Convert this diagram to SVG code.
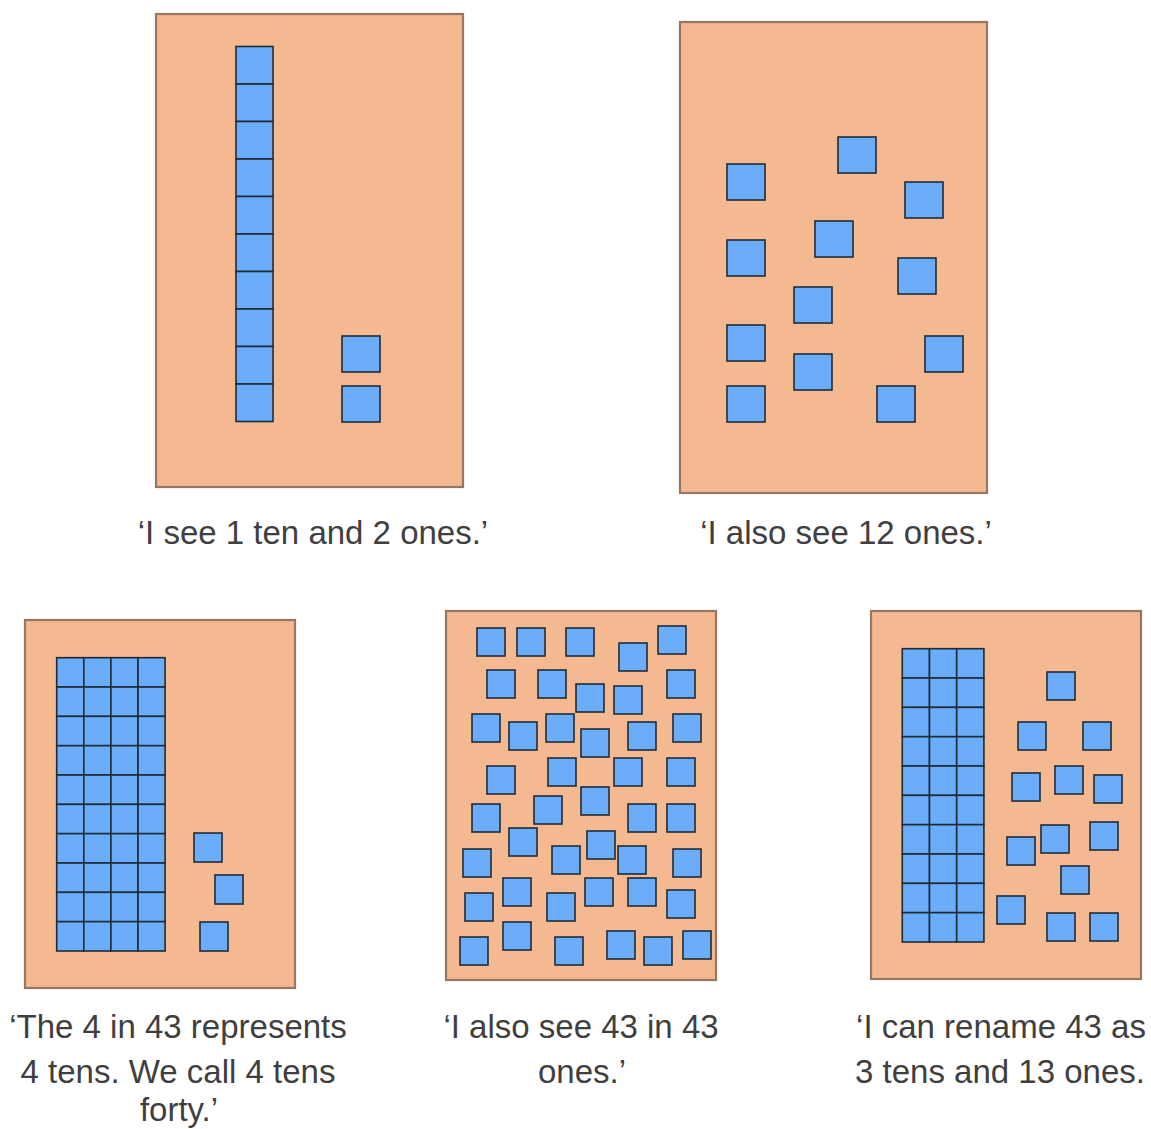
<svg xmlns="http://www.w3.org/2000/svg" width="1151" height="1129" viewBox="0 0 1151 1129">
<style>
.panel{fill:#f4b990;stroke:#977663;stroke-width:2.2}
.sq{fill:#6cadf9;stroke:#1f2c38;stroke-width:1.6}
.lbl{font-family:"Liberation Sans",Arial,sans-serif;font-size:33px;fill:#3f3f3f;text-anchor:middle}
</style>
<rect width="1151" height="1129" fill="#ffffff"/>

<g id="panel1">
<rect class="panel" x="156" y="14" width="307" height="473"/>
<rect class="sq" x="236" y="46.5" width="37" height="37.5"/>
<rect class="sq" x="236" y="84" width="37" height="37.5"/>
<rect class="sq" x="236" y="121.5" width="37" height="37.5"/>
<rect class="sq" x="236" y="159" width="37" height="37.5"/>
<rect class="sq" x="236" y="196.5" width="37" height="37.5"/>
<rect class="sq" x="236" y="234" width="37" height="37.5"/>
<rect class="sq" x="236" y="271.5" width="37" height="37.5"/>
<rect class="sq" x="236" y="309" width="37" height="37.5"/>
<rect class="sq" x="236" y="346.5" width="37" height="37.5"/>
<rect class="sq" x="236" y="384" width="37" height="37.5"/>
<rect class="sq" x="342" y="336" width="38" height="36"/>
<rect class="sq" x="342" y="386" width="38" height="36"/>
<text class="lbl" x="313" y="544">‘I see 1 ten and 2 ones.’</text>
</g>

<g id="panel2">
<rect class="panel" x="680" y="22" width="307" height="471"/>
<rect class="sq" x="727" y="164" width="38" height="36"/>
<rect class="sq" x="838" y="137" width="38" height="36"/>
<rect class="sq" x="905" y="182" width="38" height="36"/>
<rect class="sq" x="727" y="240" width="38" height="36"/>
<rect class="sq" x="815" y="221" width="38" height="36"/>
<rect class="sq" x="898" y="258" width="38" height="36"/>
<rect class="sq" x="794" y="287" width="38" height="36"/>
<rect class="sq" x="727" y="325" width="38" height="36"/>
<rect class="sq" x="925" y="336" width="38" height="36"/>
<rect class="sq" x="794" y="354" width="38" height="36"/>
<rect class="sq" x="727" y="386" width="38" height="36"/>
<rect class="sq" x="877" y="386" width="38" height="36"/>
<text class="lbl" x="846" y="544">‘I also see 12 ones.’</text>
</g>

<g id="panel3">
<rect class="panel" x="25" y="620" width="270" height="368"/>
<g id="grid3">
<rect class="sq" x="56.7" y="657.7" width="27.1" height="29.33"/><rect class="sq" x="83.8" y="657.7" width="27.1" height="29.33"/><rect class="sq" x="110.9" y="657.7" width="27.1" height="29.33"/><rect class="sq" x="138" y="657.7" width="27.1" height="29.33"/>
<rect class="sq" x="56.7" y="687.03" width="27.1" height="29.33"/><rect class="sq" x="83.8" y="687.03" width="27.1" height="29.33"/><rect class="sq" x="110.9" y="687.03" width="27.1" height="29.33"/><rect class="sq" x="138" y="687.03" width="27.1" height="29.33"/>
<rect class="sq" x="56.7" y="716.36" width="27.1" height="29.33"/><rect class="sq" x="83.8" y="716.36" width="27.1" height="29.33"/><rect class="sq" x="110.9" y="716.36" width="27.1" height="29.33"/><rect class="sq" x="138" y="716.36" width="27.1" height="29.33"/>
<rect class="sq" x="56.7" y="745.69" width="27.1" height="29.33"/><rect class="sq" x="83.8" y="745.69" width="27.1" height="29.33"/><rect class="sq" x="110.9" y="745.69" width="27.1" height="29.33"/><rect class="sq" x="138" y="745.69" width="27.1" height="29.33"/>
<rect class="sq" x="56.7" y="775.02" width="27.1" height="29.33"/><rect class="sq" x="83.8" y="775.02" width="27.1" height="29.33"/><rect class="sq" x="110.9" y="775.02" width="27.1" height="29.33"/><rect class="sq" x="138" y="775.02" width="27.1" height="29.33"/>
<rect class="sq" x="56.7" y="804.35" width="27.1" height="29.33"/><rect class="sq" x="83.8" y="804.35" width="27.1" height="29.33"/><rect class="sq" x="110.9" y="804.35" width="27.1" height="29.33"/><rect class="sq" x="138" y="804.35" width="27.1" height="29.33"/>
<rect class="sq" x="56.7" y="833.68" width="27.1" height="29.33"/><rect class="sq" x="83.8" y="833.68" width="27.1" height="29.33"/><rect class="sq" x="110.9" y="833.68" width="27.1" height="29.33"/><rect class="sq" x="138" y="833.68" width="27.1" height="29.33"/>
<rect class="sq" x="56.7" y="863.01" width="27.1" height="29.33"/><rect class="sq" x="83.8" y="863.01" width="27.1" height="29.33"/><rect class="sq" x="110.9" y="863.01" width="27.1" height="29.33"/><rect class="sq" x="138" y="863.01" width="27.1" height="29.33"/>
<rect class="sq" x="56.7" y="892.34" width="27.1" height="29.33"/><rect class="sq" x="83.8" y="892.34" width="27.1" height="29.33"/><rect class="sq" x="110.9" y="892.34" width="27.1" height="29.33"/><rect class="sq" x="138" y="892.34" width="27.1" height="29.33"/>
<rect class="sq" x="56.7" y="921.67" width="27.1" height="29.33"/><rect class="sq" x="83.8" y="921.67" width="27.1" height="29.33"/><rect class="sq" x="110.9" y="921.67" width="27.1" height="29.33"/><rect class="sq" x="138" y="921.67" width="27.1" height="29.33"/>
</g>
<rect class="sq" x="194" y="833" width="28" height="29"/>
<rect class="sq" x="215" y="875" width="28" height="29"/>
<rect class="sq" x="200" y="922" width="28" height="29"/>
<text class="lbl" x="178" y="1038">‘The 4 in 43 represents</text>
<text class="lbl" x="178" y="1083">4 tens. We call 4 tens</text>
<text class="lbl" x="179" y="1121">forty.’</text>
</g>

<g id="panel4">
<rect class="panel" x="446" y="611" width="270" height="369"/>
<rect class="sq" x="477" y="628" width="28" height="28"/>
<rect class="sq" x="517" y="628" width="28" height="28"/>
<rect class="sq" x="566" y="628" width="28" height="28"/>
<rect class="sq" x="619" y="643" width="28" height="28"/>
<rect class="sq" x="658" y="626" width="28" height="28"/>
<rect class="sq" x="487" y="670" width="28" height="28"/>
<rect class="sq" x="538" y="670" width="28" height="28"/>
<rect class="sq" x="576" y="684" width="28" height="28"/>
<rect class="sq" x="614" y="686" width="28" height="28"/>
<rect class="sq" x="667" y="670" width="28" height="28"/>
<rect class="sq" x="472" y="714" width="28" height="28"/>
<rect class="sq" x="509" y="722" width="28" height="28"/>
<rect class="sq" x="546" y="714" width="28" height="28"/>
<rect class="sq" x="581" y="729" width="28" height="28"/>
<rect class="sq" x="628" y="722" width="28" height="28"/>
<rect class="sq" x="673" y="714" width="28" height="28"/>
<rect class="sq" x="487" y="766" width="28" height="28"/>
<rect class="sq" x="548" y="758" width="28" height="28"/>
<rect class="sq" x="614" y="758" width="28" height="28"/>
<rect class="sq" x="667" y="758" width="28" height="28"/>
<rect class="sq" x="472" y="804" width="28" height="28"/>
<rect class="sq" x="534" y="796" width="28" height="28"/>
<rect class="sq" x="581" y="787" width="28" height="28"/>
<rect class="sq" x="628" y="804" width="28" height="28"/>
<rect class="sq" x="667" y="804" width="28" height="28"/>
<rect class="sq" x="509" y="828" width="28" height="28"/>
<rect class="sq" x="463" y="849" width="28" height="28"/>
<rect class="sq" x="552" y="846" width="28" height="28"/>
<rect class="sq" x="587" y="831" width="28" height="28"/>
<rect class="sq" x="618" y="846" width="28" height="28"/>
<rect class="sq" x="673" y="849" width="28" height="28"/>
<rect class="sq" x="465" y="893" width="28" height="28"/>
<rect class="sq" x="503" y="878" width="28" height="28"/>
<rect class="sq" x="547" y="893" width="28" height="28"/>
<rect class="sq" x="585" y="878" width="28" height="28"/>
<rect class="sq" x="628" y="878" width="28" height="28"/>
<rect class="sq" x="667" y="890" width="28" height="28"/>
<rect class="sq" x="460" y="937" width="28" height="28"/>
<rect class="sq" x="503" y="922" width="28" height="28"/>
<rect class="sq" x="555" y="937" width="28" height="28"/>
<rect class="sq" x="607" y="931" width="28" height="28"/>
<rect class="sq" x="644" y="937" width="28" height="28"/>
<rect class="sq" x="683" y="931" width="28" height="28"/>
<text class="lbl" x="581" y="1038">‘I also see 43 in 43</text>
<text class="lbl" x="582" y="1083">ones.’</text>
</g>

<g id="panel5">
<rect class="panel" x="871" y="611" width="270" height="368"/>
<g id="grid5">
<rect class="sq" x="902.3" y="648.7" width="27.2" height="29.33"/><rect class="sq" x="929.5" y="648.7" width="27.2" height="29.33"/><rect class="sq" x="956.7" y="648.7" width="27.2" height="29.33"/>
<rect class="sq" x="902.3" y="678.03" width="27.2" height="29.33"/><rect class="sq" x="929.5" y="678.03" width="27.2" height="29.33"/><rect class="sq" x="956.7" y="678.03" width="27.2" height="29.33"/>
<rect class="sq" x="902.3" y="707.36" width="27.2" height="29.33"/><rect class="sq" x="929.5" y="707.36" width="27.2" height="29.33"/><rect class="sq" x="956.7" y="707.36" width="27.2" height="29.33"/>
<rect class="sq" x="902.3" y="736.69" width="27.2" height="29.33"/><rect class="sq" x="929.5" y="736.69" width="27.2" height="29.33"/><rect class="sq" x="956.7" y="736.69" width="27.2" height="29.33"/>
<rect class="sq" x="902.3" y="766.02" width="27.2" height="29.33"/><rect class="sq" x="929.5" y="766.02" width="27.2" height="29.33"/><rect class="sq" x="956.7" y="766.02" width="27.2" height="29.33"/>
<rect class="sq" x="902.3" y="795.35" width="27.2" height="29.33"/><rect class="sq" x="929.5" y="795.35" width="27.2" height="29.33"/><rect class="sq" x="956.7" y="795.35" width="27.2" height="29.33"/>
<rect class="sq" x="902.3" y="824.68" width="27.2" height="29.33"/><rect class="sq" x="929.5" y="824.68" width="27.2" height="29.33"/><rect class="sq" x="956.7" y="824.68" width="27.2" height="29.33"/>
<rect class="sq" x="902.3" y="854.01" width="27.2" height="29.33"/><rect class="sq" x="929.5" y="854.01" width="27.2" height="29.33"/><rect class="sq" x="956.7" y="854.01" width="27.2" height="29.33"/>
<rect class="sq" x="902.3" y="883.34" width="27.2" height="29.33"/><rect class="sq" x="929.5" y="883.34" width="27.2" height="29.33"/><rect class="sq" x="956.7" y="883.34" width="27.2" height="29.33"/>
<rect class="sq" x="902.3" y="912.67" width="27.2" height="29.33"/><rect class="sq" x="929.5" y="912.67" width="27.2" height="29.33"/><rect class="sq" x="956.7" y="912.67" width="27.2" height="29.33"/>
</g>
<rect class="sq" x="1047" y="672" width="28" height="28"/>
<rect class="sq" x="1018" y="722" width="28" height="28"/>
<rect class="sq" x="1083" y="722" width="28" height="28"/>
<rect class="sq" x="1012" y="773" width="28" height="28"/>
<rect class="sq" x="1055" y="766" width="28" height="28"/>
<rect class="sq" x="1094" y="775" width="28" height="28"/>
<rect class="sq" x="1007" y="837" width="28" height="28"/>
<rect class="sq" x="1041" y="825" width="28" height="28"/>
<rect class="sq" x="1090" y="822" width="28" height="28"/>
<rect class="sq" x="1061" y="866" width="28" height="28"/>
<rect class="sq" x="997" y="896" width="28" height="28"/>
<rect class="sq" x="1047" y="913" width="28" height="28"/>
<rect class="sq" x="1090" y="913" width="28" height="28"/>
<text class="lbl" x="1001" y="1038">‘I can rename 43 as</text>
<text class="lbl" x="1000" y="1083">3 tens and 13 ones.</text>
</g>

<g id="connectors"></g>
</svg>
